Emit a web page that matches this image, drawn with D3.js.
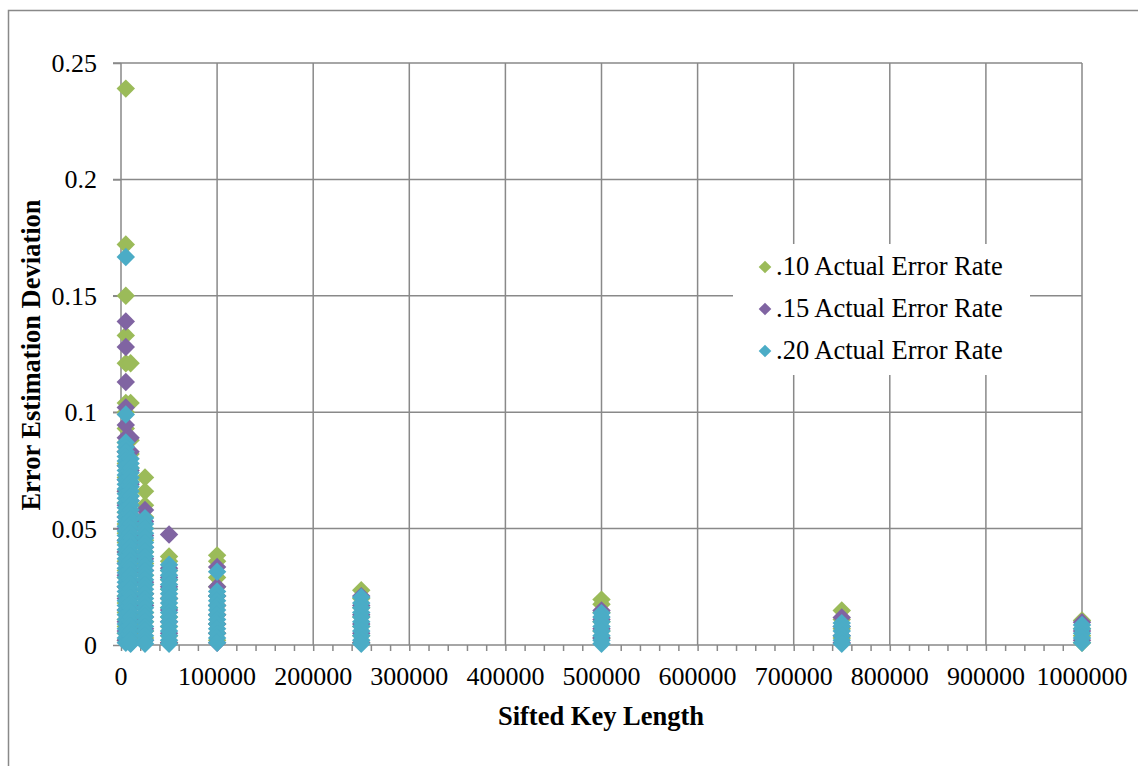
<!DOCTYPE html>
<html>
<head>
<meta charset="utf-8">
<script src="https://cdn.jsdelivr.net/npm/d3@7"></script>
<style>
  body { margin: 0; background: #fff; }
  text { font-family: "Liberation Serif", "Times New Roman", serif; fill: #000; }
</style>
</head>
<body>
<div id="graph_container"></div>
<script>
// sifted key lengths that were tested
var keyLengths = [5000, 10000, 25000, 50000, 100000, 250000, 500000, 750000, 1000000];

// error estimation deviation for each key length, one list per series
var rate10 = [
  [0.239, 0.172, 0.150, 0.133, 0.121, 0.104, 0.100, 0.093, 0.087, 0.083, 0.078, 0.072, 0.066, 0.061, 0.057, 0.052, 0.048, 0.044, 0.040, 0.036, 0.032, 0.029, 0.025, 0.021, 0.018, 0.014, 0.011, 0.008, 0.005, 0.002],
  [0.121, 0.104, 0.088, 0.082, 0.076, 0.070, 0.064, 0.058, 0.052, 0.047, 0.042, 0.037, 0.032, 0.027, 0.022, 0.018, 0.013, 0.009, 0.005, 0.001],
  [0.072, 0.066, 0.060, 0.055, 0.050, 0.045, 0.040, 0.035, 0.030, 0.026, 0.022, 0.018, 0.014, 0.010, 0.006, 0.003],
  [0.038, 0.036, 0.032, 0.028, 0.024, 0.020, 0.016, 0.012, 0.008, 0.004, 0.001],
  [0.0385, 0.036, 0.029, 0.025, 0.021, 0.017, 0.013, 0.009, 0.005, 0.002],
  [0.0235, 0.020, 0.016, 0.012, 0.008, 0.004, 0.001],
  [0.0195, 0.0175, 0.014, 0.010, 0.006, 0.003],
  [0.0148, 0.011, 0.007, 0.003],
  [0.0105, 0.007, 0.004, 0.001]
];
var rate15 = [
  [0.139, 0.128, 0.113, 0.102, 0.0945, 0.089, 0.083, 0.077, 0.071, 0.066, 0.060, 0.055, 0.050, 0.045, 0.040, 0.035, 0.030, 0.025, 0.020, 0.015, 0.010, 0.006, 0.002],
  [0.089, 0.083, 0.075, 0.069, 0.062, 0.056, 0.050, 0.044, 0.038, 0.032, 0.027, 0.021, 0.016, 0.011, 0.006, 0.001],
  [0.058, 0.053, 0.047, 0.042, 0.037, 0.032, 0.027, 0.022, 0.017, 0.012, 0.007, 0.002],
  [0.0475, 0.033, 0.029, 0.025, 0.020, 0.015, 0.010, 0.005, 0.001],
  [0.0335, 0.025, 0.021, 0.017, 0.013, 0.009, 0.005, 0.001],
  [0.021, 0.017, 0.013, 0.009, 0.005, 0.001],
  [0.0148, 0.011, 0.007, 0.003],
  [0.0118, 0.008, 0.004, 0.001],
  [0.0098, 0.006, 0.002]
];
var rate20 = [
  [0.1667, 0.099, 0.087, 0.085, 0.083, 0.081, 0.079, 0.077, 0.075, 0.073, 0.071, 0.069, 0.067, 0.065, 0.063, 0.061, 0.059, 0.057, 0.055, 0.053, 0.051, 0.049, 0.047, 0.045, 0.043, 0.041, 0.039, 0.037, 0.035, 0.033, 0.031, 0.029, 0.027, 0.025, 0.023, 0.021, 0.019, 0.017, 0.015, 0.013, 0.011, 0.009, 0.007, 0.005, 0.003, 0.001],
  [0.080, 0.078, 0.076, 0.074, 0.072, 0.070, 0.068, 0.066, 0.064, 0.062, 0.060, 0.058, 0.056, 0.054, 0.052, 0.050, 0.048, 0.046, 0.044, 0.042, 0.040, 0.038, 0.036, 0.034, 0.032, 0.030, 0.028, 0.026, 0.024, 0.022, 0.020, 0.018, 0.016, 0.014, 0.012, 0.010, 0.008, 0.006, 0.004, 0.002, 0.0005],
  [0.0545, 0.052, 0.050, 0.048, 0.046, 0.044, 0.042, 0.040, 0.038, 0.036, 0.034, 0.032, 0.030, 0.028, 0.026, 0.024, 0.022, 0.020, 0.018, 0.016, 0.014, 0.012, 0.010, 0.008, 0.006, 0.004, 0.002, 0.0005],
  [0.0345, 0.032, 0.030, 0.028, 0.026, 0.024, 0.022, 0.020, 0.018, 0.016, 0.014, 0.012, 0.010, 0.008, 0.006, 0.004, 0.002, 0.0005],
  [0.0315, 0.023, 0.021, 0.019, 0.017, 0.015, 0.013, 0.011, 0.009, 0.007, 0.005, 0.003, 0.001],
  [0.0205, 0.018, 0.016, 0.014, 0.012, 0.010, 0.008, 0.006, 0.004, 0.002, 0.0005],
  [0.0137, 0.012, 0.010, 0.008, 0.006, 0.004, 0.002, 0.0005],
  [0.0094, 0.008, 0.006, 0.004, 0.002, 0.0005],
  [0.0086, 0.007, 0.005, 0.003, 0.001]
];

var seriesNames = [".10 Actual Error Rate", ".15 Actual Error Rate", ".20 Actual Error Rate"];
var seriesColors = ["#9bbb59", "#8064a2", "#4bacc6"];
var xTicks = [0, 100000, 200000, 300000, 400000, 500000, 600000, 700000, 800000, 900000, 1000000];
var yTicks = [0, 0.05, 0.1, 0.15, 0.2, 0.25];

var width = 1138, height = 766;
var gridColor = "#898989";

var xScale = d3.scaleLinear().domain([0, 1000000]).range([121, 1082]);
var yScale = d3.scaleLinear().domain([0, 0.25]).range([645, 63]);

var svg = d3.select("#graph_container").append("svg")
    .attr("width", width)
    .attr("height", height);

// outer chart border
svg.append("rect")
    .attr("x", 8.5).attr("y", 10.5)
    .attr("width", 1140).attr("height", 770)
    .attr("fill", "#fff")
    .attr("stroke", gridColor)
    .attr("stroke-width", 1.5);

// gridlines
svg.append("g").selectAll("line")
    .data(xTicks.slice(1))
    .enter().append("line")
    .attr("x1", function(d) { return xScale(d); })
    .attr("x2", function(d) { return xScale(d); })
    .attr("y1", yScale(0.25)).attr("y2", yScale(0))
    .attr("stroke", gridColor).attr("stroke-width", 1.5);

svg.append("g").selectAll("line")
    .data(yTicks.slice(1))
    .enter().append("line")
    .attr("x1", xScale(0) - 8).attr("x2", xScale(1000000))
    .attr("y1", function(d) { return yScale(d); })
    .attr("y2", function(d) { return yScale(d); })
    .attr("stroke", gridColor).attr("stroke-width", 1.5);

// x axis with minor ticks every 20000
var xAxis = d3.axisBottom(xScale)
    .tickValues(d3.range(0, 1000001, 20000))
    .tickSize(6)
    .tickFormat("");
var gx = svg.append("g")
    .attr("transform", "translate(0," + yScale(0) + ")")
    .call(xAxis);
gx.select(".domain").attr("stroke", gridColor).attr("stroke-width", 1.5)
    .attr("d", "M" + xScale(0) + ",0H" + xScale(1000000));
gx.selectAll(".tick line").attr("stroke", gridColor).attr("stroke-width", 1.5);

svg.append("g").selectAll("text")
    .data(xTicks)
    .enter().append("text")
    .attr("x", function(d) { return xScale(d); })
    .attr("y", 685)
    .attr("text-anchor", "middle")
    .style("font-size", "26px")
    .text(function(d) { return d; });

// y axis
var yAxis = d3.axisLeft(yScale)
    .tickValues(yTicks)
    .tickSize(8)
    .tickFormat("");
var gy = svg.append("g")
    .attr("transform", "translate(" + xScale(0) + ",0)")
    .call(yAxis);
gy.select(".domain").attr("stroke", gridColor).attr("stroke-width", 1.5)
    .attr("d", "M0," + yScale(0.25) + "V" + yScale(0));
gy.selectAll(".tick line").attr("stroke", gridColor).attr("stroke-width", 1.5);

svg.append("g").selectAll("text")
    .data(yTicks)
    .enter().append("text")
    .attr("x", 97)
    .attr("y", function(d) { return yScale(d) + 9; })
    .attr("text-anchor", "end")
    .style("font-size", "26px")
    .text(function(d) { return d; });

// axis titles
svg.append("text")
    .attr("x", 601).attr("y", 725)
    .attr("text-anchor", "middle")
    .style("font-size", "26.5px").style("font-weight", "bold")
    .text("Sifted Key Length");

svg.append("text")
    .attr("transform", "translate(40,355) rotate(-90)")
    .attr("text-anchor", "middle")
    .style("font-size", "26.5px").style("font-weight", "bold")
    .text("Error Estimation Deviation");

// data points, drawn series by series
var diamond = d3.symbol().type(d3.symbolSquare).size(170);
[rate10, rate15, rate20].forEach(function(series, si) {
    var pts = [];
    series.forEach(function(vals, ki) {
        vals.forEach(function(v) { pts.push({x: keyLengths[ki], y: v}); });
    });
    svg.append("g").selectAll("path")
        .data(pts)
        .enter().append("path")
        .attr("d", diamond)
        .attr("transform", function(d) {
            return "translate(" + xScale(d.x) + "," + yScale(d.y) + ") rotate(45)";
        })
        .attr("fill", seriesColors[si]);
});

// legend
var legend = svg.append("g");
legend.append("rect")
    .attr("x", 733).attr("y", 244)
    .attr("width", 297).attr("height", 131)
    .attr("fill", "#fff");

seriesNames.forEach(function(name, i) {
    var cy = 267 + i * 42;
    legend.append("path")
        .attr("d", d3.symbol().type(d3.symbolSquare).size(80))
        .attr("transform", "translate(765," + cy + ") rotate(45)")
        .attr("fill", seriesColors[i]);
    legend.append("text")
        .attr("x", 776).attr("y", cy + 8)
        .style("font-size", "26.5px")
        .text(name);
});
</script>
</body>
</html>
